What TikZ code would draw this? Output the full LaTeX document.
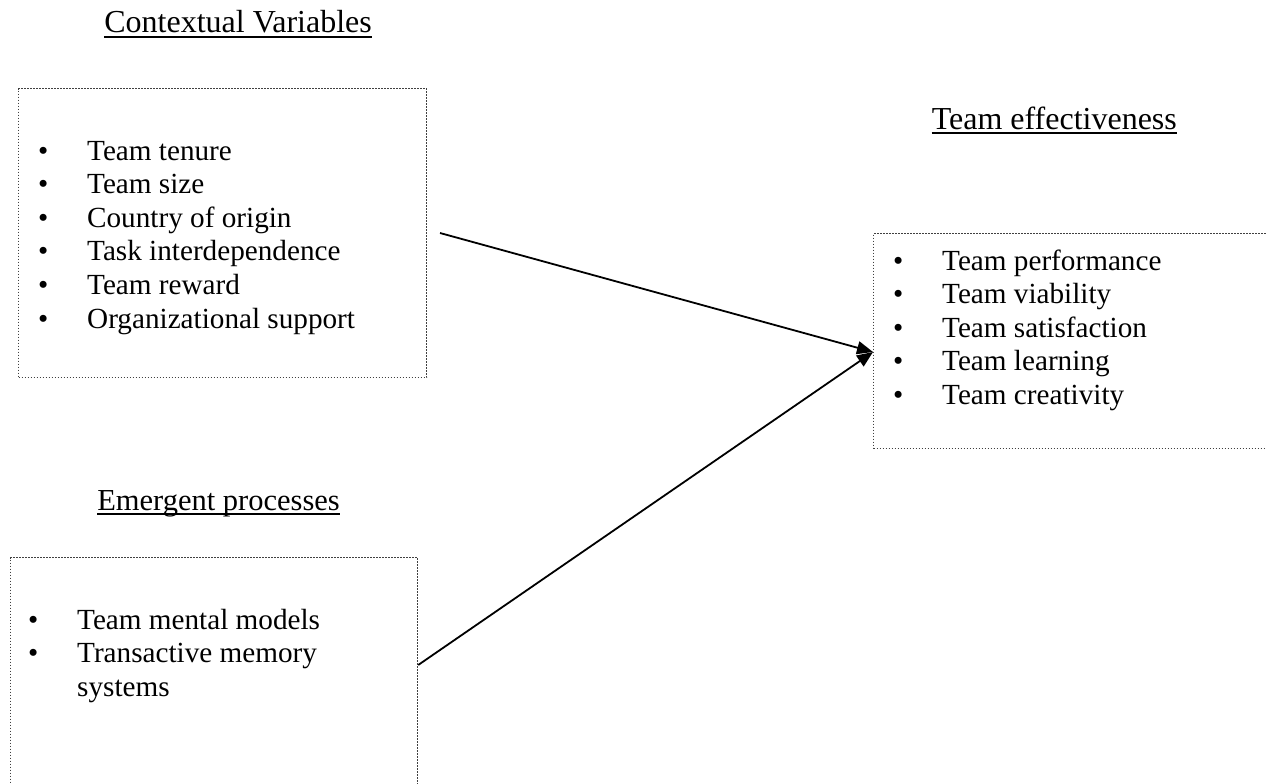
\documentclass[tikz,border=0pt]{standalone}
\usepackage{fontspec}
\setmainfont{Liberation Serif}
\usetikzlibrary{arrows.meta}
\newcommand\bul{\makebox[49pt][l]{\textbullet}}
\begin{document}
\begin{tikzpicture}[x=1pt,y=-1pt,
  box/.style={draw=black!75, line width=1.2pt, dash pattern=on 1.2pt off 1.8pt, rectangle, inner sep=0pt, anchor=north west},
  head/.style={inner sep=0pt, anchor=base east, font=\fontsize{32}{38}\selectfont},
  ul/.style={line width=2pt},
  lst/.style={inner sep=0pt, anchor=base west, font=\fontsize{29.2}{33.6}\selectfont},
  arr/.style={line width=1.8pt, -{Triangle[length=16pt,width=13pt]}}]
\clip (0,0) rectangle (1266,784);
\fill[white] (0,0) rectangle (1266,784);

% headings
\node[head] (hctx) at (372,33) {Contextual Variables};
\node[head] (heff) at (1177,129) {Team effectiveness};
\node[head, font=\fontsize{30.5}{36}\selectfont] (hemg) at (340,510) {Emergent processes};
\draw[ul] ([yshift=-3.6pt]hctx.base west) -- ([yshift=-3.6pt]hctx.base east);
\draw[ul] ([yshift=-3.6pt]heff.base west) -- ([yshift=-3.6pt]heff.base east);
\draw[ul] ([yshift=-3.6pt]hemg.base west) -- ([yshift=-3.6pt]hemg.base east);

% boxes
\node[box, minimum width=408pt, minimum height=289pt] (ctx) at (18,88) {};
\node[box, minimum width=407pt, minimum height=240pt] (emg) at (10,557) {};
\node[box, minimum width=420pt, minimum height=215pt] (eff) at (873,233) {};

% lists
\node[lst] (lctx) at (38,160) {\begin{tabular}[t]{@{}l@{}}
\bul Team tenure\\
\bul Team size\\
\bul Country of origin\\
\bul Task interdependence\\
\bul Team reward\\
\bul Organizational support
\end{tabular}};
\node[lst] (leff) at (893,270) {\begin{tabular}[t]{@{}l@{}}
\bul Team performance\\
\bul Team viability\\
\bul Team satisfaction\\
\bul Team learning\\
\bul Team creativity
\end{tabular}};
\node[lst] (lemg) at (28,629) {\begin{tabular}[t]{@{}l@{}}
\bul Team mental models\\
\bul Transactive memory\\
\makebox[49pt][l]{}systems
\end{tabular}};

% connectors
\coordinate (s1) at (440,233);
\coordinate (s2) at (emg.east |- 0,665);
\coordinate (tip) at (eff.west |- 0,352);
\draw[arr] (s1) -- (tip);
\draw[arr] (s2) -- (tip);
\end{tikzpicture}
\end{document}
